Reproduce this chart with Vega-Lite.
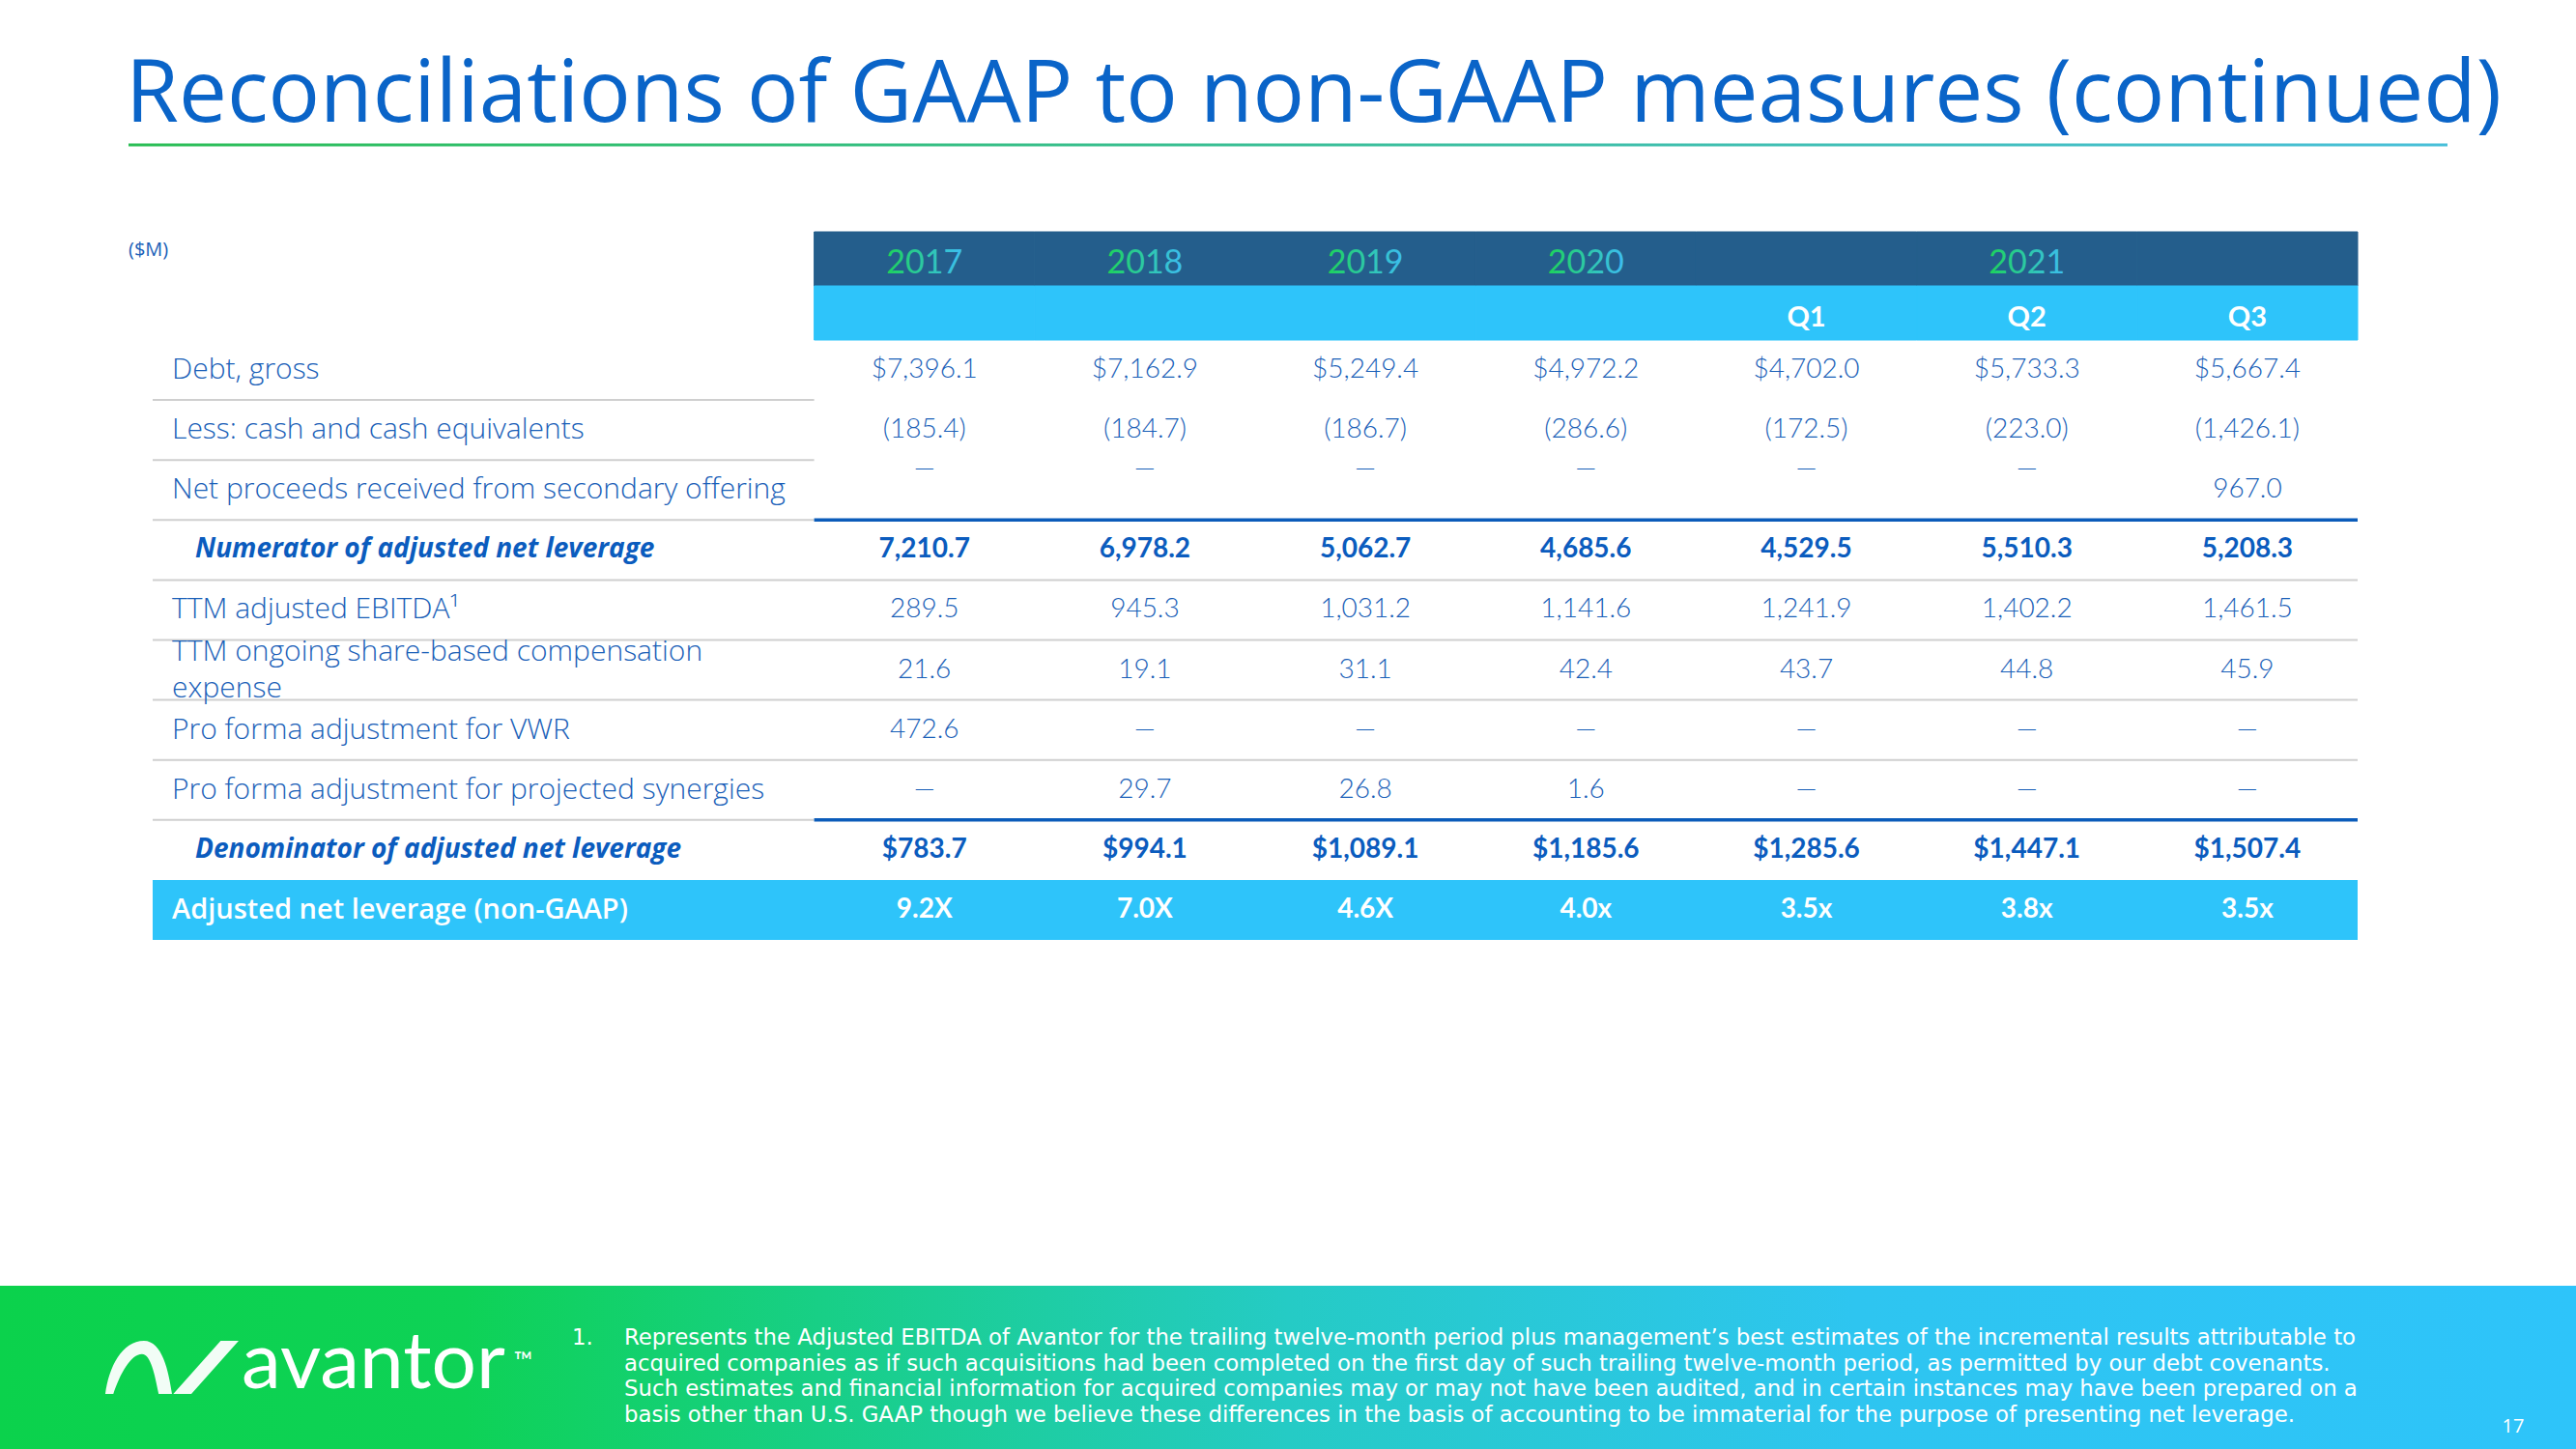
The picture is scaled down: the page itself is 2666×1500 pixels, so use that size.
{
  "$schema": "https://vega.github.io/schema/vega-lite/v6.json",
  "width": 2666,
  "height": 1500,
  "autosize": {"type": "none"},
  "padding": 0,
  "background": "#ffffff",
  "config": {"view": {"stroke": null}, "font": "Open Sans"},
  "datasets": {
    "slide": [
      {
        "title": "Reconciliations of GAAP to non-GAAP measures (continued)",
        "unit": "($M)",
        "brand": "avantor",
        "tm": "™",
        "marker": "1.",
        "note": "Represents the Adjusted EBITDA of Avantor for the trailing twelve-month period plus management’s best estimates of the incremental results attributable to\nacquired companies as if such acquisitions had been completed on the first day of such trailing twelve-month period, as permitted by our debt covenants.\nSuch estimates and financial information for acquired companies may or may not have been audited, and in certain instances may have been prepared on a\nbasis other than U.S. GAAP though we believe these differences in the basis of accounting to be immaterial for the purpose of presenting net leverage.",
        "page": "17"
      }
    ],
    "header": [
      {"col": "2017", "year": "2017", "quarter": ""},
      {"col": "2018", "year": "2018", "quarter": ""},
      {"col": "2019", "year": "2019", "quarter": ""},
      {"col": "2020", "year": "2020", "quarter": ""},
      {"col": "Q1", "year": "", "quarter": "Q1"},
      {"col": "Q2", "year": "2021", "quarter": "Q2"},
      {"col": "Q3", "year": "", "quarter": "Q3"}
    ],
    "rows": [
      {"row": "debt", "label": "Debt, gross"},
      {"row": "cash", "label": "Less: cash and cash equivalents"},
      {"row": "proceeds", "label": "Net proceeds received from secondary offering"},
      {"row": "numerator", "label": "Numerator of adjusted net leverage"},
      {"row": "ebitda", "label": "TTM adjusted EBITDA¹"},
      {"row": "sbc", "label": "TTM ongoing share-based compensation\nexpense"},
      {"row": "vwr", "label": "Pro forma adjustment for VWR"},
      {"row": "synergies", "label": "Pro forma adjustment for projected synergies"},
      {"row": "denominator", "label": "Denominator of adjusted net leverage"},
      {"row": "leverage", "label": "Adjusted net leverage (non-GAAP)"}
    ],
    "cells": [
      {"row": "debt", "col": "2017", "value": "$7,396.1"},
      {"row": "debt", "col": "2018", "value": "$7,162.9"},
      {"row": "debt", "col": "2019", "value": "$5,249.4"},
      {"row": "debt", "col": "2020", "value": "$4,972.2"},
      {"row": "debt", "col": "Q1", "value": "$4,702.0"},
      {"row": "debt", "col": "Q2", "value": "$5,733.3"},
      {"row": "debt", "col": "Q3", "value": "$5,667.4"},
      {"row": "cash", "col": "2017", "value": "(185.4)"},
      {"row": "cash", "col": "2018", "value": "(184.7)"},
      {"row": "cash", "col": "2019", "value": "(186.7)"},
      {"row": "cash", "col": "2020", "value": "(286.6)"},
      {"row": "cash", "col": "Q1", "value": "(172.5)"},
      {"row": "cash", "col": "Q2", "value": "(223.0)"},
      {"row": "cash", "col": "Q3", "value": "(1,426.1)"},
      {"row": "proceeds", "col": "2017", "value": "—"},
      {"row": "proceeds", "col": "2018", "value": "—"},
      {"row": "proceeds", "col": "2019", "value": "—"},
      {"row": "proceeds", "col": "2020", "value": "—"},
      {"row": "proceeds", "col": "Q1", "value": "—"},
      {"row": "proceeds", "col": "Q2", "value": "—"},
      {"row": "proceeds", "col": "Q3", "value": "967.0"},
      {"row": "numerator", "col": "2017", "value": "7,210.7"},
      {"row": "numerator", "col": "2018", "value": "6,978.2"},
      {"row": "numerator", "col": "2019", "value": "5,062.7"},
      {"row": "numerator", "col": "2020", "value": "4,685.6"},
      {"row": "numerator", "col": "Q1", "value": "4,529.5"},
      {"row": "numerator", "col": "Q2", "value": "5,510.3"},
      {"row": "numerator", "col": "Q3", "value": "5,208.3"},
      {"row": "ebitda", "col": "2017", "value": "289.5"},
      {"row": "ebitda", "col": "2018", "value": "945.3"},
      {"row": "ebitda", "col": "2019", "value": "1,031.2"},
      {"row": "ebitda", "col": "2020", "value": "1,141.6"},
      {"row": "ebitda", "col": "Q1", "value": "1,241.9"},
      {"row": "ebitda", "col": "Q2", "value": "1,402.2"},
      {"row": "ebitda", "col": "Q3", "value": "1,461.5"},
      {"row": "sbc", "col": "2017", "value": "21.6"},
      {"row": "sbc", "col": "2018", "value": "19.1"},
      {"row": "sbc", "col": "2019", "value": "31.1"},
      {"row": "sbc", "col": "2020", "value": "42.4"},
      {"row": "sbc", "col": "Q1", "value": "43.7"},
      {"row": "sbc", "col": "Q2", "value": "44.8"},
      {"row": "sbc", "col": "Q3", "value": "45.9"},
      {"row": "vwr", "col": "2017", "value": "472.6"},
      {"row": "vwr", "col": "2018", "value": "—"},
      {"row": "vwr", "col": "2019", "value": "—"},
      {"row": "vwr", "col": "2020", "value": "—"},
      {"row": "vwr", "col": "Q1", "value": "—"},
      {"row": "vwr", "col": "Q2", "value": "—"},
      {"row": "vwr", "col": "Q3", "value": "—"},
      {"row": "synergies", "col": "2017", "value": "—"},
      {"row": "synergies", "col": "2018", "value": "29.7"},
      {"row": "synergies", "col": "2019", "value": "26.8"},
      {"row": "synergies", "col": "2020", "value": "1.6"},
      {"row": "synergies", "col": "Q1", "value": "—"},
      {"row": "synergies", "col": "Q2", "value": "—"},
      {"row": "synergies", "col": "Q3", "value": "—"},
      {"row": "denominator", "col": "2017", "value": "$783.7"},
      {"row": "denominator", "col": "2018", "value": "$994.1"},
      {"row": "denominator", "col": "2019", "value": "$1,089.1"},
      {"row": "denominator", "col": "2020", "value": "$1,185.6"},
      {"row": "denominator", "col": "Q1", "value": "$1,285.6"},
      {"row": "denominator", "col": "Q2", "value": "$1,447.1"},
      {"row": "denominator", "col": "Q3", "value": "$1,507.4"},
      {"row": "leverage", "col": "2017", "value": "9.2X"},
      {"row": "leverage", "col": "2018", "value": "7.0X"},
      {"row": "leverage", "col": "2019", "value": "4.6X"},
      {"row": "leverage", "col": "2020", "value": "4.0x"},
      {"row": "leverage", "col": "Q1", "value": "3.5x"},
      {"row": "leverage", "col": "Q2", "value": "3.8x"},
      {"row": "leverage", "col": "Q3", "value": "3.5x"}
    ]
  },
  "layer": [
    {
      "data": {"name": "slide"},
      "mark": {"type": "rect", "fill": {"gradient": "linear", "x1": 0, "y1": 0, "x2": 1, "y2": 0, "stops": [{"offset": 0, "color": "#0BD24C"}, {"offset": 0.18, "color": "#0ED256"}, {"offset": 0.5, "color": "#25CBC5"}, {"offset": 0.72, "color": "#2EC5F0"}, {"offset": 1, "color": "#2EC4FA"}]}},
      "encoding": {
        "x": {"datum": "footer", "type": "nominal", "scale": {"type": "band", "domain": ["footer"], "paddingInner": 0, "paddingOuter": 0}, "axis": null},
        "y": {"datum": "footer", "type": "nominal", "scale": {"type": "band", "domain": ["footer"], "paddingInner": 0.74606, "paddingOuter": 1, "align": 1}, "axis": null}
      }
    },
    {
      "data": {"name": "slide"},
      "mark": {"type": "rect", "fill": {"gradient": "linear", "x1": 0, "y1": 0, "x2": 1, "y2": 0, "stops": [{"offset": 0, "color": "#2BBE55"}, {"offset": 1, "color": "#48BFD9"}]}},
      "encoding": {
        "x": {"datum": "line", "type": "nominal", "scale": {"type": "band", "domain": ["line"], "paddingInner": 0, "paddingOuter": 0.05542, "align": 0.5}, "axis": null},
        "y": {"datum": "line", "type": "nominal", "scale": {"type": "band", "domain": ["line"], "paddingInner": 0.99599, "paddingOuter": 1, "align": 0.099198}, "axis": null}
      }
    },
    {
      "data": {"name": "slide"},
      "mark": {"type": "text", "font": "Open Sans", "fontSize": 89, "fontWeight": 400, "fill": "#0A64C8", "align": "left", "baseline": "alphabetic"},
      "encoding": {
        "text": {"field": "title"},
        "x": {"datum": "t", "type": "nominal", "scale": {"type": "point", "domain": ["t"], "padding": 0, "align": 0.04876}, "axis": null},
        "y": {"datum": "t", "type": "nominal", "scale": {"type": "point", "domain": ["t"], "padding": 0, "align": 0.084}, "axis": null}
      }
    },
    {
      "data": {"name": "slide"},
      "mark": {"type": "text", "font": "Open Sans", "fontSize": 20, "fontWeight": 400, "fill": "#1A5FB8", "align": "left", "baseline": "alphabetic"},
      "encoding": {
        "text": {"field": "unit"},
        "x": {"datum": "u", "type": "nominal", "scale": {"type": "point", "domain": ["u"], "padding": 0, "align": 0.04989}, "axis": null},
        "y": {"datum": "u", "type": "nominal", "scale": {"type": "point", "domain": ["u"], "padding": 0, "align": 0.17667}, "axis": null}
      }
    },
    {
      "layer": [
        {
          "data": {"name": "header"},
          "mark": {"type": "rect", "fill": "#245E8C", "stroke": "#245E8C", "strokeWidth": 1},
          "encoding": {
            "x": {"field": "col", "type": "nominal", "scale": {"type": "band", "domain": ["L1", "L2", "L3", "2017", "2018", "2019", "2020", "Q1", "Q2", "Q3"], "paddingInner": 0, "paddingOuter": 0.84136, "align": 0.41146}, "axis": null},
            "y": {"datum": "hdr", "type": "nominal", "scale": {"type": "band", "domain": ["hdr", "sub"], "range": [240, 352], "paddingInner": 0, "paddingOuter": 0}, "axis": null}
          }
        },
        {
          "data": {"name": "header"},
          "mark": {"type": "rect", "fill": "#2EC4FA", "stroke": "#2EC4FA", "strokeWidth": 1},
          "encoding": {
            "x": {"field": "col", "type": "nominal", "scale": {"type": "band", "domain": ["L1", "L2", "L3", "2017", "2018", "2019", "2020", "Q1", "Q2", "Q3"], "paddingInner": 0, "paddingOuter": 0.84136, "align": 0.41146}, "axis": null},
            "y": {"datum": "sub", "type": "nominal", "scale": {"type": "band", "domain": ["hdr", "sub"], "range": [240, 352], "paddingInner": 0, "paddingOuter": 0}, "axis": null}
          }
        },
        {
          "data": {"name": "header"},
          "transform": [{"filter": "datum.year != ''"}],
          "mark": {"type": "text", "font": "Lato", "fontSize": 34, "fontWeight": 400, "align": "center", "baseline": "middle", "dy": 5, "fill": {"gradient": "linear", "x1": 0, "y1": 0, "x2": 1, "y2": 0, "stops": [{"offset": 0, "color": "#1DD35B"}, {"offset": 1, "color": "#3DBDF2"}]}},
          "encoding": {
            "text": {"field": "year"},
            "x": {"field": "col", "type": "nominal", "scale": {"type": "band", "domain": ["L1", "L2", "L3", "2017", "2018", "2019", "2020", "Q1", "Q2", "Q3"], "paddingInner": 0, "paddingOuter": 0.84136, "align": 0.41146}, "axis": null},
            "y": {"datum": "hdr", "type": "nominal", "scale": {"type": "band", "domain": ["hdr", "sub"], "range": [240, 352], "paddingInner": 0, "paddingOuter": 0}, "axis": null}
          }
        },
        {
          "data": {"name": "header"},
          "transform": [{"filter": "datum.quarter != ''"}],
          "mark": {"type": "text", "font": "Lato", "fontSize": 29, "fontWeight": 700, "align": "center", "baseline": "middle", "dy": 5, "fill": "#ffffff"},
          "encoding": {
            "text": {"field": "quarter"},
            "x": {"field": "col", "type": "nominal", "scale": {"type": "band", "domain": ["L1", "L2", "L3", "2017", "2018", "2019", "2020", "Q1", "Q2", "Q3"], "paddingInner": 0, "paddingOuter": 0.84136, "align": 0.41146}, "axis": null},
            "y": {"datum": "sub", "type": "nominal", "scale": {"type": "band", "domain": ["hdr", "sub"], "range": [240, 352], "paddingInner": 0, "paddingOuter": 0}, "axis": null}
          }
        }
      ]
    },
    {
      "layer": [
        {
          "data": {"name": "rows"},
          "transform": [{"filter": {"field": "row", "equal": "leverage"}}],
          "mark": {"type": "rect", "fill": "#2EC4FA"},
          "encoding": {
            "x": {"datum": "L1", "type": "nominal", "bandPosition": 0, "scale": {"type": "band", "domain": ["L1", "L2", "L3", "2017", "2018", "2019", "2020", "Q1", "Q2", "Q3"], "paddingInner": 0, "paddingOuter": 0.84136, "align": 0.41146}, "axis": null},
            "x2": {"datum": "Q3", "bandPosition": 1},
            "y": {"field": "row", "type": "nominal", "scale": {"type": "band", "domain": ["debt", "cash", "proceeds", "numerator", "ebitda", "sbc", "vwr", "synergies", "denominator", "leverage"], "range": [352, 973], "paddingInner": 0, "paddingOuter": 0}, "axis": null}
          }
        },
        {
          "data": {"name": "rows"},
          "transform": [{"filter": {"field": "row", "oneOf": ["debt", "cash", "proceeds", "synergies"]}}],
          "mark": {"type": "rule", "stroke": "#CFCFCF", "strokeWidth": 2},
          "encoding": {
            "x": {"datum": "L1", "type": "nominal", "bandPosition": 0, "scale": {"type": "band", "domain": ["L1", "L2", "L3", "2017", "2018", "2019", "2020", "Q1", "Q2", "Q3"], "paddingInner": 0, "paddingOuter": 0.84136, "align": 0.41146}, "axis": null},
            "x2": {"datum": "L3", "bandPosition": 1},
            "y": {"field": "row", "type": "nominal", "bandPosition": 1, "scale": {"type": "band", "domain": ["debt", "cash", "proceeds", "numerator", "ebitda", "sbc", "vwr", "synergies", "denominator", "leverage"], "range": [352, 973], "paddingInner": 0, "paddingOuter": 0}, "axis": null}
          }
        },
        {
          "data": {"name": "rows"},
          "transform": [{"filter": {"field": "row", "oneOf": ["numerator", "ebitda", "sbc", "vwr"]}}],
          "mark": {"type": "rule", "stroke": "#CFCFCF", "strokeWidth": 2},
          "encoding": {
            "x": {"datum": "L1", "type": "nominal", "bandPosition": 0, "scale": {"type": "band", "domain": ["L1", "L2", "L3", "2017", "2018", "2019", "2020", "Q1", "Q2", "Q3"], "paddingInner": 0, "paddingOuter": 0.84136, "align": 0.41146}, "axis": null},
            "x2": {"datum": "Q3", "bandPosition": 1},
            "y": {"field": "row", "type": "nominal", "bandPosition": 1, "scale": {"type": "band", "domain": ["debt", "cash", "proceeds", "numerator", "ebitda", "sbc", "vwr", "synergies", "denominator", "leverage"], "range": [352, 973], "paddingInner": 0, "paddingOuter": 0}, "axis": null}
          }
        },
        {
          "data": {"name": "rows"},
          "transform": [{"filter": {"field": "row", "oneOf": ["proceeds", "synergies"]}}],
          "mark": {"type": "rule", "stroke": "#0B5CBA", "strokeWidth": 3.5},
          "encoding": {
            "x": {"datum": "2017", "type": "nominal", "bandPosition": 0, "scale": {"type": "band", "domain": ["L1", "L2", "L3", "2017", "2018", "2019", "2020", "Q1", "Q2", "Q3"], "paddingInner": 0, "paddingOuter": 0.84136, "align": 0.41146}, "axis": null},
            "x2": {"datum": "Q3", "bandPosition": 1},
            "y": {"field": "row", "type": "nominal", "bandPosition": 1, "scale": {"type": "band", "domain": ["debt", "cash", "proceeds", "numerator", "ebitda", "sbc", "vwr", "synergies", "denominator", "leverage"], "range": [352, 973], "paddingInner": 0, "paddingOuter": 0}, "axis": null}
          }
        },
        {
          "data": {"name": "rows"},
          "transform": [{"filter": {"not": {"field": "row", "oneOf": ["numerator", "denominator", "leverage", "sbc"]}}}],
          "mark": {"type": "text", "font": "Open Sans", "fontSize": 30, "fontWeight": 300, "align": "left", "baseline": "middle", "dx": 20, "fill": "#1A5FB8"},
          "encoding": {
            "text": {"field": "label"},
            "x": {"datum": "L1", "type": "nominal", "bandPosition": 0, "scale": {"type": "band", "domain": ["L1", "L2", "L3", "2017", "2018", "2019", "2020", "Q1", "Q2", "Q3"], "paddingInner": 0, "paddingOuter": 0.84136, "align": 0.41146}, "axis": null},
            "y": {"field": "row", "type": "nominal", "scale": {"type": "band", "domain": ["debt", "cash", "proceeds", "numerator", "ebitda", "sbc", "vwr", "synergies", "denominator", "leverage"], "range": [352, 973], "paddingInner": 0, "paddingOuter": 0}, "axis": null}
          }
        },
        {
          "data": {"name": "rows"},
          "transform": [{"filter": {"field": "row", "equal": "sbc"}}],
          "mark": {"type": "text", "font": "Open Sans", "fontSize": 30, "fontWeight": 300, "align": "left", "baseline": "middle", "dx": 20, "dy": -19, "fill": "#1A5FB8", "lineBreak": "\n", "lineHeight": 38},
          "encoding": {
            "text": {"field": "label"},
            "x": {"datum": "L1", "type": "nominal", "bandPosition": 0, "scale": {"type": "band", "domain": ["L1", "L2", "L3", "2017", "2018", "2019", "2020", "Q1", "Q2", "Q3"], "paddingInner": 0, "paddingOuter": 0.84136, "align": 0.41146}, "axis": null},
            "y": {"field": "row", "type": "nominal", "scale": {"type": "band", "domain": ["debt", "cash", "proceeds", "numerator", "ebitda", "sbc", "vwr", "synergies", "denominator", "leverage"], "range": [352, 973], "paddingInner": 0, "paddingOuter": 0}, "axis": null}
          }
        },
        {
          "data": {"name": "rows"},
          "transform": [{"filter": {"field": "row", "oneOf": ["numerator", "denominator"]}}],
          "mark": {"type": "text", "font": "Open Sans", "fontSize": 28, "fontWeight": 700, "fontStyle": "italic", "align": "left", "baseline": "middle", "dx": 44, "fill": "#0B5CBE"},
          "encoding": {
            "text": {"field": "label"},
            "x": {"datum": "L1", "type": "nominal", "bandPosition": 0, "scale": {"type": "band", "domain": ["L1", "L2", "L3", "2017", "2018", "2019", "2020", "Q1", "Q2", "Q3"], "paddingInner": 0, "paddingOuter": 0.84136, "align": 0.41146}, "axis": null},
            "y": {"field": "row", "type": "nominal", "scale": {"type": "band", "domain": ["debt", "cash", "proceeds", "numerator", "ebitda", "sbc", "vwr", "synergies", "denominator", "leverage"], "range": [352, 973], "paddingInner": 0, "paddingOuter": 0}, "axis": null}
          }
        },
        {
          "data": {"name": "rows"},
          "transform": [{"filter": {"field": "row", "equal": "leverage"}}],
          "mark": {"type": "text", "font": "Open Sans", "fontSize": 29, "fontWeight": 600, "align": "left", "baseline": "middle", "dx": 20, "fill": "#ffffff"},
          "encoding": {
            "text": {"field": "label"},
            "x": {"datum": "L1", "type": "nominal", "bandPosition": 0, "scale": {"type": "band", "domain": ["L1", "L2", "L3", "2017", "2018", "2019", "2020", "Q1", "Q2", "Q3"], "paddingInner": 0, "paddingOuter": 0.84136, "align": 0.41146}, "axis": null},
            "y": {"field": "row", "type": "nominal", "scale": {"type": "band", "domain": ["debt", "cash", "proceeds", "numerator", "ebitda", "sbc", "vwr", "synergies", "denominator", "leverage"], "range": [352, 973], "paddingInner": 0, "paddingOuter": 0}, "axis": null}
          }
        },
        {
          "data": {"name": "cells"},
          "transform": [{"filter": "indexof(['numerator', 'denominator', 'leverage'], datum.row) < 0 && !(datum.row === 'proceeds' && datum.value === '—')"}],
          "mark": {"type": "text", "font": "Lato", "fontSize": 28, "fontWeight": 300, "align": "center", "baseline": "middle", "fill": "#1A5FB8"},
          "encoding": {
            "text": {"field": "value"},
            "x": {"field": "col", "type": "nominal", "scale": {"type": "band", "domain": ["L1", "L2", "L3", "2017", "2018", "2019", "2020", "Q1", "Q2", "Q3"], "paddingInner": 0, "paddingOuter": 0.84136, "align": 0.41146}, "axis": null},
            "y": {"field": "row", "type": "nominal", "scale": {"type": "band", "domain": ["debt", "cash", "proceeds", "numerator", "ebitda", "sbc", "vwr", "synergies", "denominator", "leverage"], "range": [352, 973], "paddingInner": 0, "paddingOuter": 0}, "axis": null}
          }
        },
        {
          "data": {"name": "cells"},
          "transform": [{"filter": "datum.row === 'proceeds' && datum.value === '—'"}],
          "mark": {"type": "text", "font": "Lato", "fontSize": 28, "fontWeight": 300, "align": "center", "baseline": "middle", "dy": -21, "fill": "#1A5FB8"},
          "encoding": {
            "text": {"field": "value"},
            "x": {"field": "col", "type": "nominal", "scale": {"type": "band", "domain": ["L1", "L2", "L3", "2017", "2018", "2019", "2020", "Q1", "Q2", "Q3"], "paddingInner": 0, "paddingOuter": 0.84136, "align": 0.41146}, "axis": null},
            "y": {"field": "row", "type": "nominal", "scale": {"type": "band", "domain": ["debt", "cash", "proceeds", "numerator", "ebitda", "sbc", "vwr", "synergies", "denominator", "leverage"], "range": [352, 973], "paddingInner": 0, "paddingOuter": 0}, "axis": null}
          }
        },
        {
          "data": {"name": "cells"},
          "transform": [{"filter": {"field": "row", "oneOf": ["numerator", "denominator"]}}],
          "mark": {"type": "text", "font": "Lato", "fontSize": 28, "fontWeight": 700, "align": "center", "baseline": "middle", "fill": "#0B5CBE"},
          "encoding": {
            "text": {"field": "value"},
            "x": {"field": "col", "type": "nominal", "scale": {"type": "band", "domain": ["L1", "L2", "L3", "2017", "2018", "2019", "2020", "Q1", "Q2", "Q3"], "paddingInner": 0, "paddingOuter": 0.84136, "align": 0.41146}, "axis": null},
            "y": {"field": "row", "type": "nominal", "scale": {"type": "band", "domain": ["debt", "cash", "proceeds", "numerator", "ebitda", "sbc", "vwr", "synergies", "denominator", "leverage"], "range": [352, 973], "paddingInner": 0, "paddingOuter": 0}, "axis": null}
          }
        },
        {
          "data": {"name": "cells"},
          "transform": [{"filter": {"field": "row", "equal": "leverage"}}],
          "mark": {"type": "text", "font": "Lato", "fontSize": 28, "fontWeight": 700, "align": "center", "baseline": "middle", "fill": "#ffffff"},
          "encoding": {
            "text": {"field": "value"},
            "x": {"field": "col", "type": "nominal", "scale": {"type": "band", "domain": ["L1", "L2", "L3", "2017", "2018", "2019", "2020", "Q1", "Q2", "Q3"], "paddingInner": 0, "paddingOuter": 0.84136, "align": 0.41146}, "axis": null},
            "y": {"field": "row", "type": "nominal", "scale": {"type": "band", "domain": ["debt", "cash", "proceeds", "numerator", "ebitda", "sbc", "vwr", "synergies", "denominator", "leverage"], "range": [352, 973], "paddingInner": 0, "paddingOuter": 0}, "axis": null}
          }
        }
      ]
    },
    {
      "data": {"name": "slide"},
      "mark": {"type": "point", "shape": "M -1 0.4 C -0.95 0 -0.75 -0.4 -0.42 -0.4 C -0.15 -0.4 -0.05 0.05 0 0.4 L -0.2 0.4 C -0.26 0.1 -0.32 -0.2 -0.45 -0.2 C -0.62 -0.2 -0.78 0.1 -0.88 0.4 Z M 0.02 0.4 L 0.73 -0.4 L 1 -0.4 L 0.29 0.4 Z", "size": 19044, "filled": true, "fill": "#ffffff", "fillOpacity": 0.95, "strokeWidth": 0},
      "encoding": {
        "x": {"datum": "s", "type": "nominal", "scale": {"type": "point", "domain": ["s"], "padding": 0, "align": 0.066767}, "axis": null},
        "y": {"datum": "s", "type": "nominal", "scale": {"type": "point", "domain": ["s"], "padding": 0, "align": 0.94367}, "axis": null}
      }
    },
    {
      "data": {"name": "slide"},
      "mark": {"type": "text", "font": "Lato", "fontSize": 82, "fontWeight": 400, "fill": "#ffffff", "align": "left", "baseline": "alphabetic"},
      "encoding": {
        "text": {"field": "brand"},
        "x": {"datum": "b", "type": "nominal", "scale": {"type": "point", "domain": ["b"], "padding": 0, "align": 0.093773}, "axis": null},
        "y": {"datum": "b", "type": "nominal", "scale": {"type": "point", "domain": ["b"], "padding": 0, "align": 0.958}, "axis": null}
      }
    },
    {
      "data": {"name": "slide"},
      "mark": {"type": "text", "font": "Lato", "fontSize": 26, "fontWeight": 400, "fill": "#ffffff", "align": "left", "baseline": "alphabetic"},
      "encoding": {
        "text": {"field": "tm"},
        "x": {"datum": "m", "type": "nominal", "scale": {"type": "point", "domain": ["m"], "padding": 0, "align": 0.1995}, "axis": null},
        "y": {"datum": "m", "type": "nominal", "scale": {"type": "point", "domain": ["m"], "padding": 0, "align": 0.94533}, "axis": null}
      }
    },
    {
      "data": {"name": "slide"},
      "mark": {"type": "text", "font": "DejaVu Sans", "fontSize": 22.8, "fontWeight": 400, "fill": "#ffffff", "align": "left", "baseline": "alphabetic"},
      "encoding": {
        "text": {"field": "marker"},
        "x": {"datum": "k", "type": "nominal", "scale": {"type": "point", "domain": ["k"], "padding": 0, "align": 0.22206}, "axis": null},
        "y": {"datum": "k", "type": "nominal", "scale": {"type": "point", "domain": ["k"], "padding": 0, "align": 0.928}, "axis": null}
      }
    },
    {
      "data": {"name": "slide"},
      "mark": {"type": "text", "font": "DejaVu Sans", "fontSize": 22.8, "fontWeight": 400, "fill": "#ffffff", "align": "left", "baseline": "alphabetic", "lineBreak": "\n", "lineHeight": 26.7},
      "encoding": {
        "text": {"field": "note"},
        "x": {"datum": "n", "type": "nominal", "scale": {"type": "point", "domain": ["n"], "padding": 0, "align": 0.24231}, "axis": null},
        "y": {"datum": "n", "type": "nominal", "scale": {"type": "point", "domain": ["n"], "padding": 0, "align": 0.928}, "axis": null}
      }
    },
    {
      "data": {"name": "slide"},
      "mark": {"type": "text", "font": "Open Sans", "fontSize": 20, "fontWeight": 400, "fill": "#ffffff", "align": "center", "baseline": "alphabetic"},
      "encoding": {
        "text": {"field": "page"},
        "x": {"datum": "p", "type": "nominal", "scale": {"type": "point", "domain": ["p"], "padding": 0, "align": 0.97562}, "axis": null},
        "y": {"datum": "p", "type": "nominal", "scale": {"type": "point", "domain": ["p"], "padding": 0, "align": 0.98867}, "axis": null}
      }
    }
  ],
  "resolve": {"scale": {"x": "independent", "y": "independent"}}
}
